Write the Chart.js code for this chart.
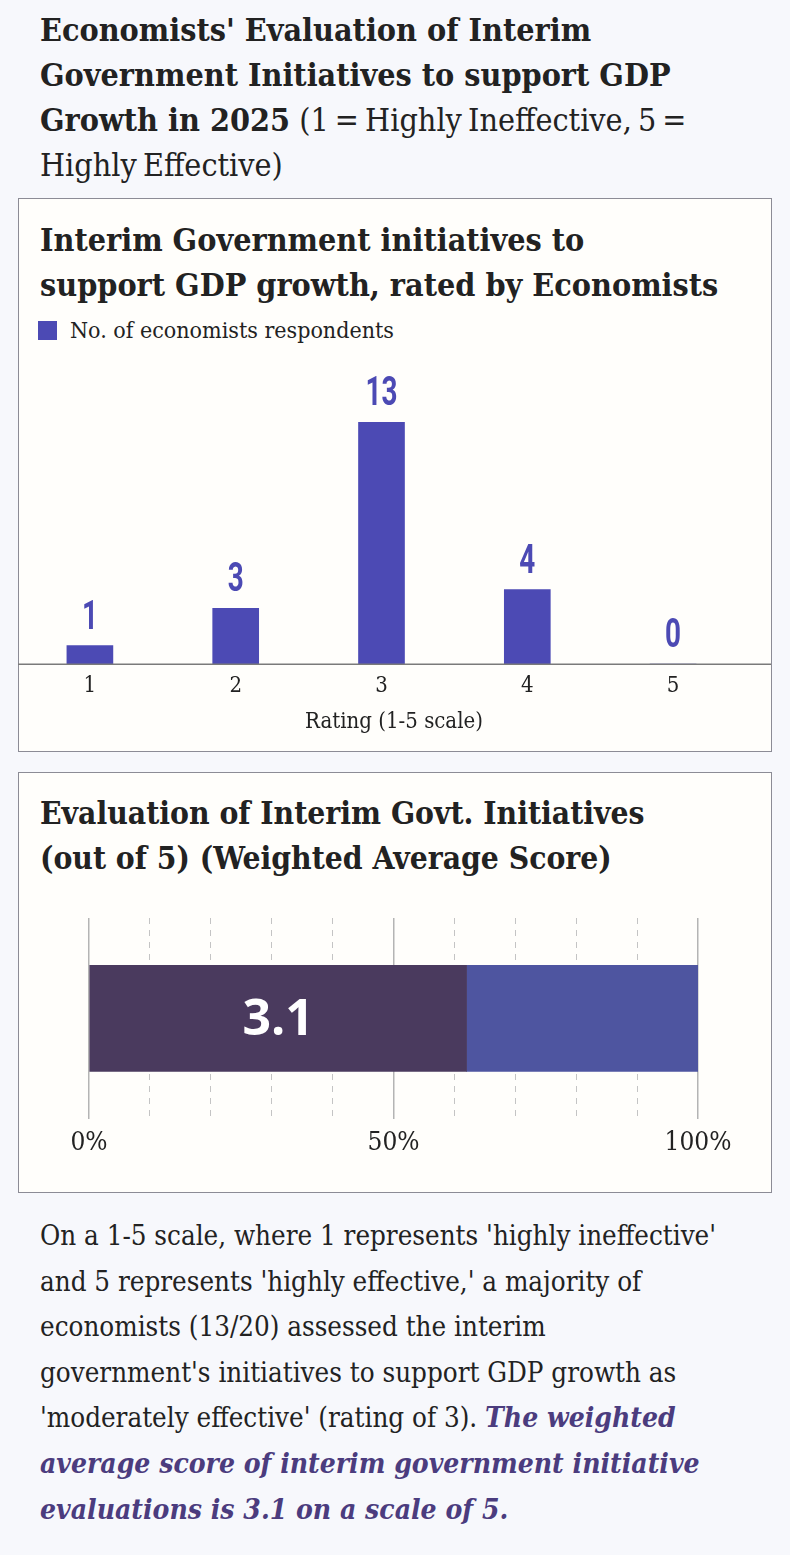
<!DOCTYPE html>
<html>
<head>
<meta charset="utf-8">
<script src="https://cdn.jsdelivr.net/npm/chart.js@4.4.1/dist/chart.umd.min.js"></script>
<style>
  html, body { margin: 0; padding: 0; }
  body {
    width: 790px; height: 1555px; position: relative; overflow: hidden;
    background: #f7f8fc; color: #222;
    font-family: 'DejaVu Serif Condensed', 'DejaVu Serif', serif;
  }
  .abs { position: absolute; white-space: nowrap; }
  #page-title { left: 40px; top: 8px; font-size: 32px; line-height: 45px; }
  #page-title b { font-weight: bold; }
  #page-title span { word-spacing: -3px; }
  .box { background: #fffefb; border: 1.5px solid #8c8c96; box-sizing: border-box; }
  #box1 { left: 18px; top: 198px; width: 754px; height: 554px; }
  #box2 { left: 18px; top: 772px; width: 754px; height: 421px; }
  .box-title { left: 40px; font-size: 32px; line-height: 45px; font-weight: bold; }
  #legend-sw { left: 38px; top: 321px; width: 19px; height: 19px; background: #4c4ab4; }
  #legend-txt { left: 70px; top: 315px; font-size: 23px; line-height: 30px; }
  #para { left: 40px; top: 1213px; font-size: 27.5px; line-height: 45.6px; }
  #para em { font-weight: bold; color: #4b3c7e; font-size: 1.02em; }
</style>
</head>
<body>

<div id="page-title" class="abs"><b>Economists' Evaluation of Interim<br>Government Initiatives to support GDP<br>Growth in 2025</b> <span>(1 = Highly Ineffective, 5 =<br>Highly Effective)</span></div>

<div id="box1" class="abs box"></div>
<div class="abs box-title" style="top:218px">Interim Government initiatives to<br>support GDP growth, rated by Economists</div>
<div id="legend-sw" class="abs"></div>
<div id="legend-txt" class="abs">No. of economists respondents</div>
<canvas id="chart-ratings" class="abs" style="left:17px; top:350px; width:754px; height:395px"></canvas>

<div id="box2" class="abs box"></div>
<div class="abs box-title" style="top:790px; font-size:31.5px">Evaluation of Interim Govt. Initiatives<br>(out of 5) (Weighted Average Score)</div>
<canvas id="chart-score" class="abs" style="left:19px; top:900px; width:751px; height:270px"></canvas>

<div id="para" class="abs">On a 1-5 scale, where 1 represents 'highly ineffective'<br>and 5 represents 'highly effective,' a majority of<br>economists (13/20) assessed the interim<br>government's initiatives to support GDP growth as<br>'moderately effective' (rating of 3). <em>The weighted<br>average score of interim government initiative<br>evaluations is 3.1 on a scale of 5.</em></div>

<script>
/* ── Data ─────────────────────────────────────────────── */
const RATINGS      = ['1', '2', '3', '4', '5'];
const RESPONDENTS  = [1, 3, 13, 4, 0];
const X_TITLE      = 'Rating (1-5 scale)';

const SCORE_LABEL  = [''];
const SCORE_SHARE  = [62];   // 3.1 out of 5, as % of the bar
const REST_SHARE   = [38];
const SCORE_VALUE  = 3.1;
const PCT_TICKS    = [0, 50, 100];

/* ── Colours / fonts ──────────────────────────────────── */
const BAR_BLUE   = '#4c4ab4';
const SCORE_DARK = '#4a3a5e';
const SCORE_REST = '#4e55a0';
const SERIF      = "'DejaVu Serif Condensed', 'DejaVu Serif', serif";

/* ── Plugins ──────────────────────────────────────────── */
const ratingExtras = {
  id: 'ratingExtras',
  afterDatasetsDraw(chart) {
    const { ctx, chartArea } = chart;
    // baseline across the full box width
    ctx.save();
    ctx.strokeStyle = '#7a7a7a';
    ctx.lineWidth = 1.5;
    ctx.beginPath();
    ctx.moveTo(1, chartArea.bottom);
    ctx.lineTo(chart.width, chartArea.bottom);
    ctx.stroke();
    ctx.restore();

    // condensed value labels above bars
    const meta = chart.getDatasetMeta(0);
    meta.data.forEach((bar, i) => {
      ctx.save();
      ctx.translate(bar.x, bar.y - 17);
      ctx.scale(0.68, 1);
      ctx.fillStyle = BAR_BLUE;
      ctx.font = "bold 41px Roboto, 'DejaVu Sans', sans-serif";
      ctx.textAlign = 'center';
      ctx.textBaseline = 'alphabetic';
      ctx.fillText(String(RESPONDENTS[i]), 0, 0);
      ctx.restore();
    });

    // axis title, centred on the whole box rather than the plot area
    const xs = chart.scales.x;
    ctx.save();
    ctx.fillStyle = '#222';
    ctx.font = `22px ${SERIF}`;
    ctx.textAlign = 'center';
    ctx.textBaseline = 'middle';
    ctx.fillText(X_TITLE, chart.width / 2, xs.bottom - 13.2);
    ctx.restore();
  },
};

const scoreLabel = {
  id: 'scoreLabel',
  afterDatasetsDraw(chart) {
    const { ctx } = chart;
    const bar = chart.getDatasetMeta(0).data[0];
    if (!bar) return;
    ctx.save();
    ctx.fillStyle = '#ffffff';
    ctx.font = "bold 50px 'Open Sans', 'Noto Sans', sans-serif";
    ctx.textAlign = 'center';
    ctx.textBaseline = 'middle';
    ctx.fillText(SCORE_VALUE.toFixed(1), (bar.x + bar.base) / 2, bar.y + 2);
    ctx.restore();
  },
};

/* ── Chart 1: ratings distribution ────────────────────── */
new Chart(document.getElementById('chart-ratings'), {
  type: 'bar',
  data: {
    labels: RATINGS,
    datasets: [{
      label: 'No. of economists respondents',
      data: RESPONDENTS,
      backgroundColor: BAR_BLUE,
      barThickness: 46,
    }],
  },
  options: {
    responsive: false,
    animation: false,
    layout: { padding: { top: 72, left: 0, right: 25, bottom: 10 } },
    plugins: { legend: { display: false }, tooltip: { enabled: false } },
    scales: {
      y: { display: false, min: 0, max: 13 },
      x: {
        grid: { display: false, drawTicks: false },
        border: { display: false },
        ticks: { color: '#222', padding: 9, font: { family: SERIF, size: 22 } },
        title: {
          display: true,
          text: X_TITLE,
          color: 'rgba(0,0,0,0)',   // space only; drawn centred by plugin
          padding: { top: 0, bottom: 0 },
          font: { family: SERIF, size: 22 },
        },
      },
    },
  },
  plugins: [ratingExtras],
});

/* ── Chart 2: weighted average score ──────────────────── */
new Chart(document.getElementById('chart-score'), {
  type: 'bar',
  data: {
    labels: SCORE_LABEL,
    datasets: [
      { label: 'Score', data: SCORE_SHARE, backgroundColor: SCORE_DARK, barThickness: 106 },
      { label: 'Remaining', data: REST_SHARE, backgroundColor: SCORE_REST, barThickness: 106 },
    ],
  },
  options: {
    indexAxis: 'y',
    responsive: false,
    animation: false,
    layout: { padding: { top: 18, left: 70, right: 72, bottom: 2 } },
    plugins: { legend: { display: false }, tooltip: { enabled: false } },
    scales: {
      y: { display: false, stacked: true },
      x: {
        stacked: true,
        min: 0, max: 100,
        afterBuildTicks: axis => { axis.ticks = PCT_TICKS.map(v => ({ value: v })); },
        grid: { color: '#b4b4b4', lineWidth: 1.5, drawTicks: false },
        border: { display: false },
        ticks: {
          color: '#222', padding: 9,
          font: { family: SERIF, size: 26 },
          callback: v => v + '%',
        },
      },
      x2: {
        position: 'top',
        min: 0, max: 100,
        ticks: { display: false, stepSize: 10 },
        grid: {
          drawTicks: false,
          lineWidth: 1,
          color: c => (c.tick && c.tick.value % 50 === 0) ? 'rgba(0,0,0,0)' : '#c4c4c4',
        },
        border: { display: false, dash: [6, 6] },
      },
    },
  },
  plugins: [scoreLabel],
});
</script>
</body>
</html>
